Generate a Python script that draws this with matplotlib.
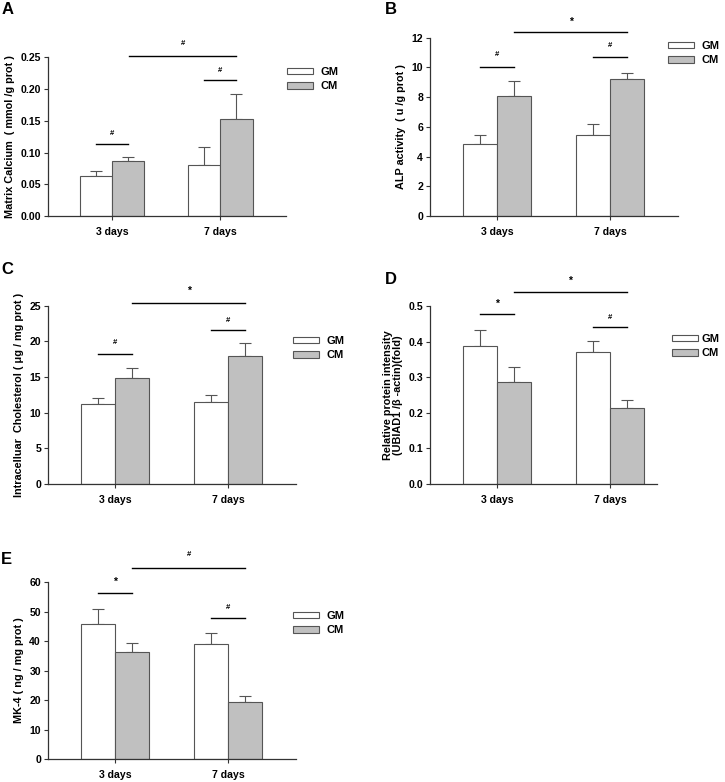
import matplotlib
matplotlib.use('Agg')
import matplotlib.pyplot as plt
import numpy as np

plt.rcParams['font.family'] = ['Liberation Sans', 'DejaVu Sans']
plt.rcParams['font.weight'] = 'bold'

groups = ['3 days', '7 days']
series = ['GM', 'CM']

# Panel data: means and upper error (value at top of error bar minus mean)
calcium_gm = [0.063, 0.081]
calcium_gm_err = [0.008, 0.027]
calcium_cm = [0.086, 0.153]
calcium_cm_err = [0.007, 0.039]

alp_gm = [4.82, 5.47]
alp_gm_err = [0.61, 0.70]
alp_cm = [8.05, 9.19]
alp_cm_err = [1.01, 0.41]

chol_gm = [11.17, 11.45]
chol_gm_err = [0.83, 1.07]
chol_cm = [14.86, 17.99]
chol_cm_err = [1.44, 1.78]

ubiad_gm = [0.388, 0.371]
ubiad_gm_err = [0.044, 0.032]
ubiad_cm = [0.287, 0.215]
ubiad_cm_err = [0.042, 0.020]

mk4_gm = [45.7, 38.85]
mk4_gm_err = [5.3, 3.95]
mk4_cm = [36.4, 19.26]
mk4_cm_err = [3.1, 2.24]

# significance marks: (x1, x2, line y, text y, symbol)
sig_a = [(-0.15, 0.15, 0.114, 0.130, '#'), (0.85, 1.15, 0.215, 0.229, '#'), (0.16, 1.15, 0.252, 0.271, '#')]
sig_b = [(-0.15, 0.15, 10.04, 10.9, '#'), (0.85, 1.15, 10.7, 11.5, '#'), (0.15, 1.15, 12.35, 13.1, '*')]
sig_c = [(-0.15, 0.15, 18.3, 19.9, '#'), (0.85, 1.15, 21.6, 23.0, '#'), (0.15, 1.15, 25.4, 27.1, '*')]
sig_d = [(-0.15, 0.15, 0.478, 0.506, '*'), (0.85, 1.15, 0.441, 0.468, '#'), (0.15, 1.15, 0.539, 0.572, '*')]
sig_e = [(-0.15, 0.15, 56.3, 60.0, '*'), (0.85, 1.15, 47.9, 51.5, '#'), (0.15, 1.15, 64.75, 69.3, '#')]

panels = [
    dict(letter='A', rect=[0.0658, 0.7238, 0.3287, 0.2029], xlim=(-0.595, 1.61),
         gm=calcium_gm, gme=calcium_gm_err, cm=calcium_cm, cme=calcium_cm_err,
         ylim=(0, 0.25), yticks=np.arange(0, 0.26, 0.05), fmt='%.2f',
         ylabel='Matrix Calcium  ( mmol /g prot )', sig=sig_a,
         leg=(287, 67), let=(2, 14), pad=0.7),
    dict(letter='B', rect=[0.5931, 0.7238, 0.342, 0.228], xlim=(-0.593, 1.6),
         gm=alp_gm, gme=alp_gm_err, cm=alp_cm, cme=alp_cm_err,
         ylim=(0, 12), yticks=np.arange(0, 13, 2), fmt='%d',
         ylabel='ALP activity  ( u /g prot )', sig=sig_b,
         leg=(668, 41), let=(385, 14), pad=0.7),
    dict(letter='C', rect=[0.0662, 0.381, 0.342, 0.228], xlim=(-0.593, 1.6),
         gm=chol_gm, gme=chol_gm_err, cm=chol_cm, cme=chol_cm_err,
         ylim=(0, 25), yticks=np.arange(0, 26, 5), fmt='%d',
         ylabel='Intracelluar  Cholesterol ( μg / mg prot )', sig=sig_c,
         leg=(293, 336), let=(1, 274), pad=0.7),
    dict(letter='D', rect=[0.5931, 0.381, 0.313, 0.2276], xlim=(-0.593, 1.416),
         gm=ubiad_gm, gme=ubiad_gm_err, cm=ubiad_cm, cme=ubiad_cm_err,
         ylim=(0, 0.5), yticks=np.arange(0, 0.51, 0.1), fmt='%.1f',
         ylabel='Relative protein intensity\n(UBIAD1 /β -actin)(fold)', sig=sig_d,
         leg=(672, 334), let=(385, 284), pad=0.35),
    dict(letter='E', rect=[0.0662, 0.0294, 0.342, 0.2263], xlim=(-0.593, 1.6),
         gm=mk4_gm, gme=mk4_gm_err, cm=mk4_cm, cme=mk4_cm_err,
         ylim=(0, 60), yticks=np.arange(0, 61, 10), fmt='%d',
         ylabel='MK-4 ( ng / mg prot )', sig=sig_e,
         leg=(293, 611), let=(1, 564), pad=0.7),
]

W, H = 725, 782
fig = plt.figure(figsize=(W / 100, H / 100), dpi=100)

edge = '#555555'
x = np.arange(len(groups))
w = 0.3

for p in panels:
    ax = fig.add_axes(p['rect'])
    ax.bar(x - w / 2, p['gm'], w, color='white', edgecolor=edge, linewidth=0.8,
           label=series[0], zorder=2)
    ax.bar(x + w / 2, p['cm'], w, color='#c0c0c0', edgecolor=edge, linewidth=0.8,
           label=series[1], zorder=2)
    ax.errorbar(x - w / 2, p['gm'], yerr=[np.zeros(2), p['gme']], fmt='none',
                ecolor=edge, elinewidth=0.8, capsize=4, capthick=0.8, zorder=1)
    ax.errorbar(x + w / 2, p['cm'], yerr=[np.zeros(2), p['cme']], fmt='none',
                ecolor=edge, elinewidth=0.8, capsize=4, capthick=0.8, zorder=1)

    ax.set_xlim(*p['xlim'])
    ax.set_ylim(*p['ylim'])
    ax.set_yticks(p['yticks'])
    ax.set_yticklabels([p['fmt'] % v for v in p['yticks']])
    ax.set_xticks(x)
    ax.set_xticklabels(groups)
    for s in ['top', 'right']:
        ax.spines[s].set_visible(False)
    for s in ['left', 'bottom']:
        ax.spines[s].set_color('#333333')
        ax.spines[s].set_linewidth(0.9)
    ax.tick_params(axis='both', direction='out', length=3, width=0.8,
                   color='#333333', labelsize=7.6, pad=2)
    ax.tick_params(axis='x', pad=5)
    ax.set_ylabel(p['ylabel'], fontsize=7.8, fontweight='bold', labelpad=4,
                  linespacing=1.0)

    for x1, x2, ly, ty, sym in p['sig']:
        ax.plot([x1, x2], [ly, ly], color='black', linewidth=1.0, clip_on=False)
        ax.text((x1 + x2) / 2, ty, sym, ha='center', va='center',
                fontsize=7.5 if sym == '*' else 5.5, clip_on=False)

    lx, ly = p['leg']
    ax.legend(loc='upper left', bbox_to_anchor=(lx / W, 1 - ly / H),
              bbox_transform=fig.transFigure, frameon=False, fontsize=8,
              handlelength=2.3, handleheight=0.5, handletextpad=p['pad'],
              labelspacing=0.4, borderpad=0, borderaxespad=0)

    fx, fy = p['let']
    fig.text(fx / W, 1 - fy / H, p['letter'], fontsize=12, fontweight='bold',
             ha='left', va='baseline')

fig.savefig('out.png', dpi=100)
